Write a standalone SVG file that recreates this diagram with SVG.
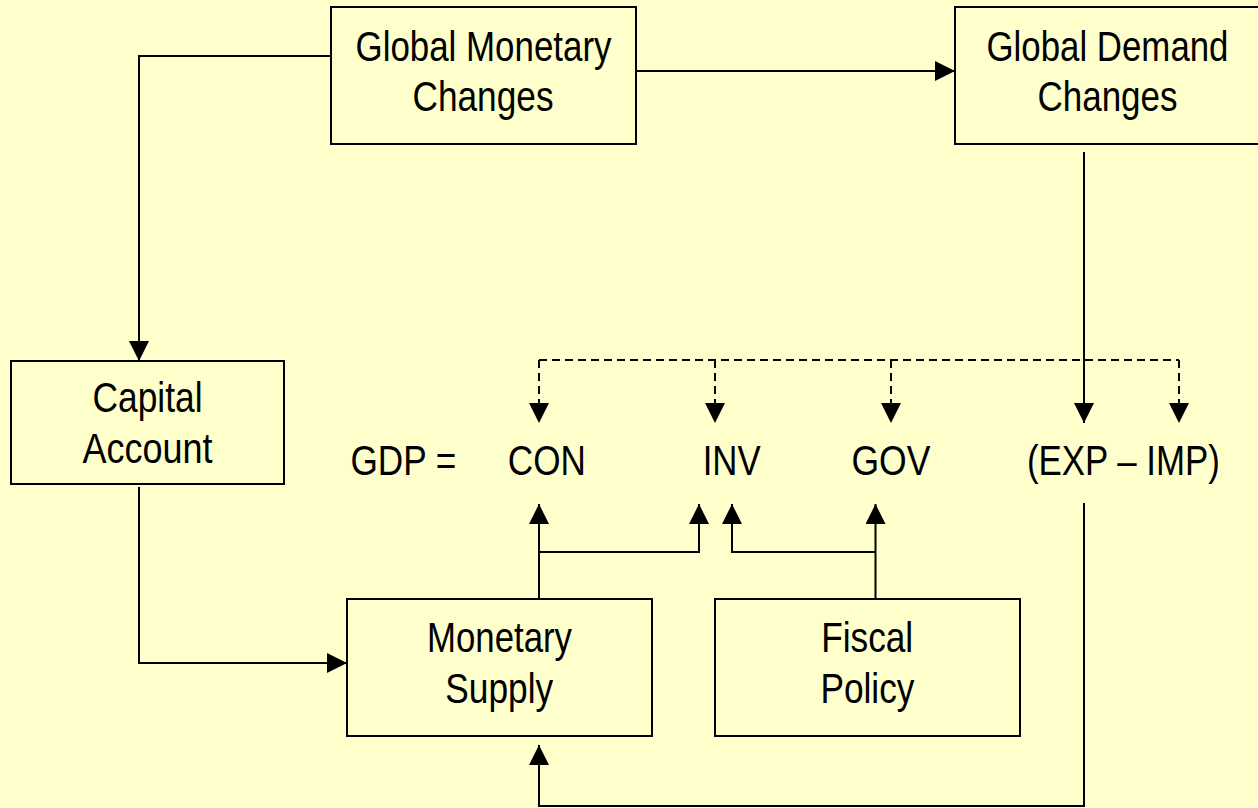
<svg xmlns="http://www.w3.org/2000/svg" width="1258" height="808" viewBox="0 0 1258 808">
<style>
.box{fill:#FFFFCC;stroke:#000;stroke-width:2}
.lbl{font-family:"Liberation Sans Narrow","Liberation Sans",Arial,sans-serif;font-size:43px;fill:#000;text-anchor:middle}
.ln{fill:none;stroke:#000;stroke-width:2}
.dash{fill:none;stroke:#000;stroke-width:2;stroke-dasharray:8 5}
</style>
<defs>
<marker id="ah" markerUnits="userSpaceOnUse" markerWidth="20" markerHeight="20" refX="20" refY="10" orient="auto" viewBox="0 0 20 20">
<path d="M0,0 L20,10 L0,20 Z" fill="#000"/>
</marker>
</defs>
<rect x="0" y="0" width="1258" height="808" fill="#FFFFCC"/>
<g id="connectors">
<path class="ln" d="M331,56 H139 V361" marker-end="url(#ah)"/>
<path class="ln" d="M636,71 H955" marker-end="url(#ah)"/>
<path class="ln" d="M1084,152 V423" marker-end="url(#ah)"/>
<path class="dash" d="M539,360 H1179"/>
<path class="dash" d="M539,360 V423" marker-end="url(#ah)"/>
<path class="dash" d="M715,360 V423" marker-end="url(#ah)"/>
<path class="dash" d="M891,360 V423" marker-end="url(#ah)"/>
<path class="dash" d="M1179,360 V423" marker-end="url(#ah)"/>
<path class="ln" d="M139,487 V663 H347" marker-end="url(#ah)"/>
<path class="ln" d="M539,599 V504" marker-end="url(#ah)"/>
<path class="ln" d="M539,552 H699 V504" marker-end="url(#ah)"/>
<path class="ln" d="M875.5,599 V504" marker-end="url(#ah)"/>
<path class="ln" d="M875.5,552 H732 V504" marker-end="url(#ah)"/>
<path class="ln" d="M1084,503 V806 H539 V745" marker-end="url(#ah)"/>
</g>
<g id="global-monetary">
<rect class="box" x="331" y="7" width="305" height="137"/>
<text class="lbl" x="483.5" y="61" textLength="256" lengthAdjust="spacingAndGlyphs">Global Monetary</text>
<text class="lbl" x="483" y="111" textLength="141" lengthAdjust="spacingAndGlyphs">Changes</text>
</g>
<g id="global-demand">
<rect class="box" x="955" y="7" width="305" height="137"/>
<text class="lbl" x="1107.5" y="61" textLength="242" lengthAdjust="spacingAndGlyphs">Global Demand</text>
<text class="lbl" x="1107.5" y="111" textLength="140" lengthAdjust="spacingAndGlyphs">Changes</text>
</g>
<g id="capital-account">
<rect class="box" x="11" y="361" width="273" height="123"/>
<text class="lbl" x="147.5" y="412" textLength="110" lengthAdjust="spacingAndGlyphs">Capital</text>
<text class="lbl" x="147.5" y="463" textLength="130" lengthAdjust="spacingAndGlyphs">Account</text>
</g>
<g id="gdp">
<text class="lbl" x="403.4" y="475" textLength="106" lengthAdjust="spacingAndGlyphs">GDP =</text>
</g>
<g id="con">
<text class="lbl" x="546.8" y="475" textLength="78" lengthAdjust="spacingAndGlyphs">CON</text>
</g>
<g id="inv">
<text class="lbl" x="731.7" y="475" textLength="58" lengthAdjust="spacingAndGlyphs">INV</text>
</g>
<g id="gov">
<text class="lbl" x="890.9" y="475" textLength="79" lengthAdjust="spacingAndGlyphs">GOV</text>
</g>
<g id="exp-imp">
<text class="lbl" x="1123.4" y="475" textLength="193" lengthAdjust="spacingAndGlyphs">(EXP – IMP)</text>
</g>
<g id="monetary-supply">
<rect class="box" x="347" y="599" width="305" height="137"/>
<text class="lbl" x="499.5" y="652" textLength="145" lengthAdjust="spacingAndGlyphs">Monetary</text>
<text class="lbl" x="499.2" y="703" textLength="108" lengthAdjust="spacingAndGlyphs">Supply</text>
</g>
<g id="fiscal-policy">
<rect class="box" x="715" y="599" width="305" height="137"/>
<text class="lbl" x="867.2" y="652" textLength="92" lengthAdjust="spacingAndGlyphs">Fiscal</text>
<text class="lbl" x="867.4" y="703" textLength="94" lengthAdjust="spacingAndGlyphs">Policy</text>
</g>
</svg>
